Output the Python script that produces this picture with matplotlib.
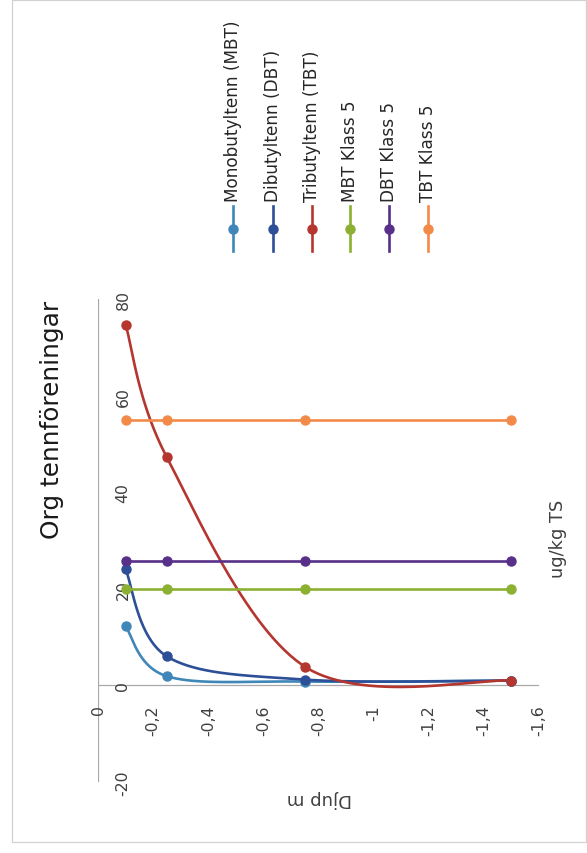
import numpy as np
import matplotlib
matplotlib.use("Agg")
import matplotlib.pyplot as plt
from matplotlib.lines import Line2D
from matplotlib.patches import Rectangle

# ---- data ----
depth = [-0.1, -0.25, -0.75, -1.5]
mbt = [12.2, 1.9, 0.8, 1.0]
dbt = [24.0, 6.0, 1.2, 1.0]
tbt = [74.7, 47.2, 3.9, 1.0]
mbt_klass5 = [20.0, 20.0, 20.0, 20.0]
dbt_klass5 = [25.8, 25.8, 25.8, 25.8]
tbt_klass5 = [55.0, 55.0, 55.0, 55.0]

series_names = ["Monobutyltenn (MBT)", "Dibutyltenn (DBT)", "Tributyltenn (TBT)",
                "MBT Klass 5", "DBT Klass 5", "TBT Klass 5"]
series_values = [mbt, dbt, tbt, mbt_klass5, dbt_klass5, tbt_klass5]
series_colors = ["#3f87b9", "#2d4f97", "#b5352f", "#8cb032", "#58308a", "#f28b4a"]

depth_ticks = [0, -0.2, -0.4, -0.6, -0.8, -1.0, -1.2, -1.4, -1.6]
depth_tick_labels = ["0", "-0,2", "-0,4", "-0,6", "-0,8", "-1", "-1,2", "-1,4", "-1,6"]
conc_ticks = [-20, 0, 20, 40, 60, 80]
conc_tick_labels = ["-20", "0", "20", "40", "60", "80"]

title = "Org tennföreningar"
depth_title = "Djup m"
conc_title = "ug/kg TS"

FONT = "DejaVu Sans"
W, H = 587, 854
fig = plt.figure(figsize=(W / 100, H / 100), dpi=100)
fig.patch.set_facecolor("white")

def fx(px):
    return px / W

def fy(py):
    return 1 - py / H

# chart frame
fig.add_artist(Rectangle((fx(12), fy(843)), fx(586) - fx(12), fy(1) - fy(843),
                         transform=fig.transFigure, fill=False,
                         edgecolor="#d2d2d2", lw=0.9))

# plot area: depth runs left→right, concentration bottom→top
left, right, top, bottom = 98, 539, 300, 783
ax = fig.add_axes([fx(left), fy(bottom), fx(right) - fx(left), fy(top) - fy(bottom)])
ax.set_xlim(0, -1.6)
ax.set_ylim(-20, 80)
ax.set_facecolor("none")
for s in ax.spines.values():
    s.set_visible(False)
ax.set_xticks([])
ax.set_yticks([])

ax.axhline(0, color="#a8a8a8", lw=0.9, zorder=1)
ax.axvline(0, color="#a8a8a8", lw=0.9, zorder=1)

# scale factors (pixels per data unit) so the smoothing is done in screen space
sx = (right - left) / 1.6
sy = (bottom - top) / 100.0

def smooth(xs, ys, n=60):
    p = np.column_stack([np.asarray(xs, float) * sx, np.asarray(ys, float) * sy])
    ext = np.vstack([p[0], p, p[-1]])
    t = np.linspace(0, 1, n)[1:, None]
    out = [p[:1]]
    for i in range(len(p) - 1):
        p0, p1, p2, p3 = ext[i], ext[i + 1], ext[i + 2], ext[i + 3]
        c1 = p1 + (p2 - p0) / 6
        c2 = p2 - (p3 - p1) / 6
        seg = ((1 - t) ** 3) * p1 + 3 * ((1 - t) ** 2) * t * c1 \
            + 3 * (1 - t) * t ** 2 * c2 + t ** 3 * p2
        out.append(seg)
    pts = np.vstack(out)
    return pts[:, 0] / sx, pts[:, 1] / sy

for vals, col in zip(series_values, series_colors):
    cx, cy = smooth(depth, vals)
    ax.plot(cx, cy, color=col, lw=1.9, zorder=3, clip_on=False, solid_capstyle="round")
    ax.plot(depth, vals, "o", color=col, ms=6.5, zorder=4, clip_on=False)

tick_color = "#404040"
for d, lab in zip(depth_ticks, depth_tick_labels):
    ax.annotate(lab, xy=(d, 0), xytext=(0, -19), textcoords="offset pixels",
                rotation=90, ha="center", va="top", fontsize=11.3,
                family=FONT, color=tick_color)
for c, lab in zip(conc_ticks, conc_tick_labels):
    ax.annotate(lab, xy=(0, c), xytext=(25, 0), textcoords="offset pixels",
                rotation=90, ha="center", va="center", fontsize=11.3,
                family=FONT, color=tick_color)

fig.text(fx(319), fy(799), depth_title, rotation=180, ha="center", va="center",
         fontsize=13, family=FONT, color="#404040")
fig.text(fx(558), fy(539), conc_title, rotation=90, ha="center", va="center",
         fontsize=12.8, family=FONT, color="#404040")
fig.text(fx(52), fy(420), title, rotation=90, ha="center", va="center",
         fontsize=17.8, family=FONT, color="#1a1a1a")

# legend
leg_x = [233, 273, 312, 350, 389, 428]
for xp, name, col in zip(leg_x, series_names, series_colors):
    fig.add_artist(Line2D([fx(xp)] * 3, [fy(252), fy(230), fy(207)],
                          transform=fig.transFigure, color=col, lw=1.9,
                          marker="o", ms=6.5, markevery=[1]))
    fig.text(fx(xp), fy(202), name, rotation=90, ha="center", va="bottom",
             fontsize=12.2, family=FONT, color="#262626")

fig.savefig("out.png", dpi=100)
